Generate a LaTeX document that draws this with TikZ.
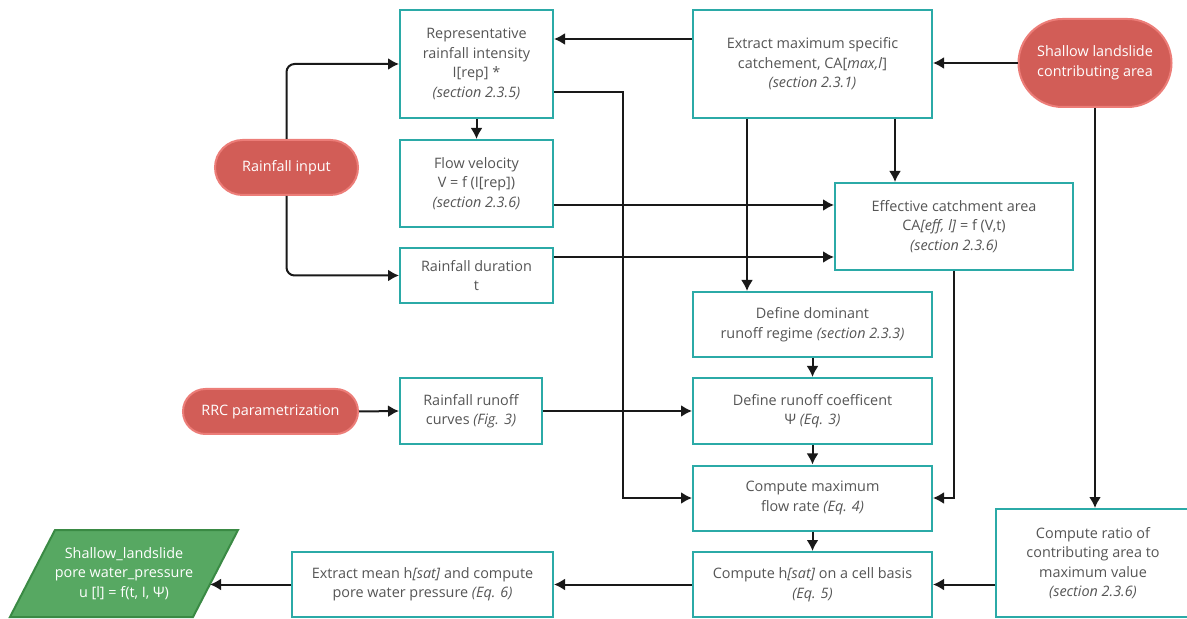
\documentclass[tikz,border=0pt]{standalone}
\usepackage{fontspec}
\setmainfont{Open Sans}
\usepackage{xcolor}
\usepackage{tikz}
\usetikzlibrary{arrows,arrows.meta,calc,positioning,shapes}
\definecolor{boxteal}{HTML}{2BAAA7}
\definecolor{pillred}{HTML}{D25D57}
\definecolor{pillrim}{HTML}{EC7D78}
\definecolor{outgreen}{HTML}{57A862}
\definecolor{outrim}{HTML}{3A8A44}
\definecolor{txtgray}{HTML}{555555}
\tikzset{>={Latex[length=5.5pt,width=6pt]}}
\tikzset{
  box/.style={draw=boxteal, line width=1pt, fill=white, text=txtgray, align=center, inner sep=0pt},
  pill/.style={rounded rectangle, draw=pillrim, line width=1pt, fill=pillred, text=white, align=center, inner sep=0pt},
  link/.style={->, line width=1pt, black!90}
}
\newcommand{\sect}[1]{\textit{(#1)}}

\begin{document}
\begin{tikzpicture}[x=0.5pt, y=-0.5pt, font=\fontsize{7.2}{9.75}\selectfont]
            \useasboundingbox (0,0) rectangle (1187,619);
            % inputs
            \node[pill, minimum width=71.5pt, minimum height=27.5pt] at (286.5,167.5) (rain) {Rainfall input};
            \node[pill, minimum width=76.5pt, minimum height=44pt] at (1095,63) (shallow) {Shallow landslide\\contributing area};
            \node[pill, minimum width=87.5pt, minimum height=22.5pt] at (270.5,411.5) (rrc) {RRC parametrization};
            % left column
            \node[box, minimum width=76.5pt, minimum height=54pt] at (476.5,64) (rep) {Representative\\rainfall intensity\\I[rep] *\\\sect{section 2.3.5}};
            \node[box, minimum width=76.5pt, minimum height=43.5pt] at (476.5,183.5) (vel) {Flow velocity\\V = f (I[rep])\\\sect{section 2.3.6}};
            \node[box, minimum width=76.5pt, minimum height=27.5pt] at (476.5,275.5) (dur) {Rainfall duration\\t};
            \node[box, minimum width=71pt, minimum height=33pt] at (471,411) (curves) {Rainfall runoff\\curves \textit{(Fig. 3)}};
            % middle column
            \node[box, minimum width=119.5pt, minimum height=54pt] at (812.5,64) (extract) {Extract maximum specific\\catchement, CA[\textit{max,l}]\\\sect{section 2.3.1}};
            \node[box, minimum width=119pt, minimum height=43.5pt] at (954,226.5) (eff) {Effective catchment area\\CA\textit{[eff, l]} = f (V,t)\\\sect{section 2.3.6}};
            \node[box, minimum width=119.5pt, minimum height=32.5pt] at (812.5,324.5) (dom) {Define dominant\\runoff regime \sect{section 2.3.3}};
            \node[box, minimum width=119.5pt, minimum height=33pt] at (812.5,411) (coef) {Define runoff coefficent\\Ψ \textit{(Eq. 3)}};
            \node[box, minimum width=119.5pt, minimum height=32.5pt] at (812.5,498) (flow) {Compute maximum\\flow rate \textit{(Eq. 4)}};
            \node[box, minimum width=119.5pt, minimum height=32.5pt] at (812.5,584.5) (hsat) {Compute h\textit{[sat]} on a cell basis\\\textit{(Eq. 5)}};
            \node[box, minimum width=97pt, minimum height=54pt] at (1093,563) (ratio) {Compute ratio of\\contributing area to\\maximum value\\\sect{section 2.3.6}};
            % output
            \node[box, minimum width=130.5pt, minimum height=32.5pt] at (422.5,584.5) (mean) {Extract mean h\textit{[sat]} and compute\\pore water pressure \textit{(Eq. 6)}};
            \filldraw[fill=outgreen, draw=outrim, line width=1pt] (10,617) -- (55,530) -- (238,530) -- (193,617) -- cycle;
            \node[text=white, align=center] at (124,573.5) (out) {Shallow\_landslide\\pore water\_pressure\\u [l] = f(t, I, Ψ)};
            \coordinate (outtip) at (210,584.5);
            % connectors
            \draw[link] (extract.west |- 0,39) -- (rep.east |- 0,39);
            \draw[link] (shallow.west) -- (extract.east |- shallow.west);
            \draw[link, rounded corners=4pt] (rain.north) |- (rep.west);
            \draw[link, rounded corners=4pt] (rain.south) |- (dur.west);
            \draw[link] (rep.south) -- (vel.north);
            \draw[link] (rep.east |- 0,92) -- ++(69,0) |- (flow.west);
            \draw[link] (vel.east |- 0,205) -- (eff.west |- 0,205);
            \draw[link] (dur.east |- 0,257) -- (eff.west |- 0,257);
            \draw[link] (extract.south -| 747,0) -- (dom.north -| 747,0);
            \draw[link] (extract.south -| 895,0) -- (eff.north -| 895,0);
            \draw[link] (eff.south) |- (flow.east);
            \draw[link] (shallow.south) -- (shallow.south |- ratio.north);
            \draw[link] (rrc.east) -- (curves.west);
            \draw[link] (curves.east) -- (coef.west);
            \draw[link] (dom.south) -- (coef.north);
            \draw[link] (coef.south) -- (flow.north);
            \draw[link] (flow.south) -- (hsat.north);
            \draw[link] (ratio.west |- hsat.east) -- (hsat.east);
            \draw[link] (hsat.west) -- (mean.east);
            \draw[link] (mean.west) -- (outtip);
          \end{tikzpicture}
\end{document}
